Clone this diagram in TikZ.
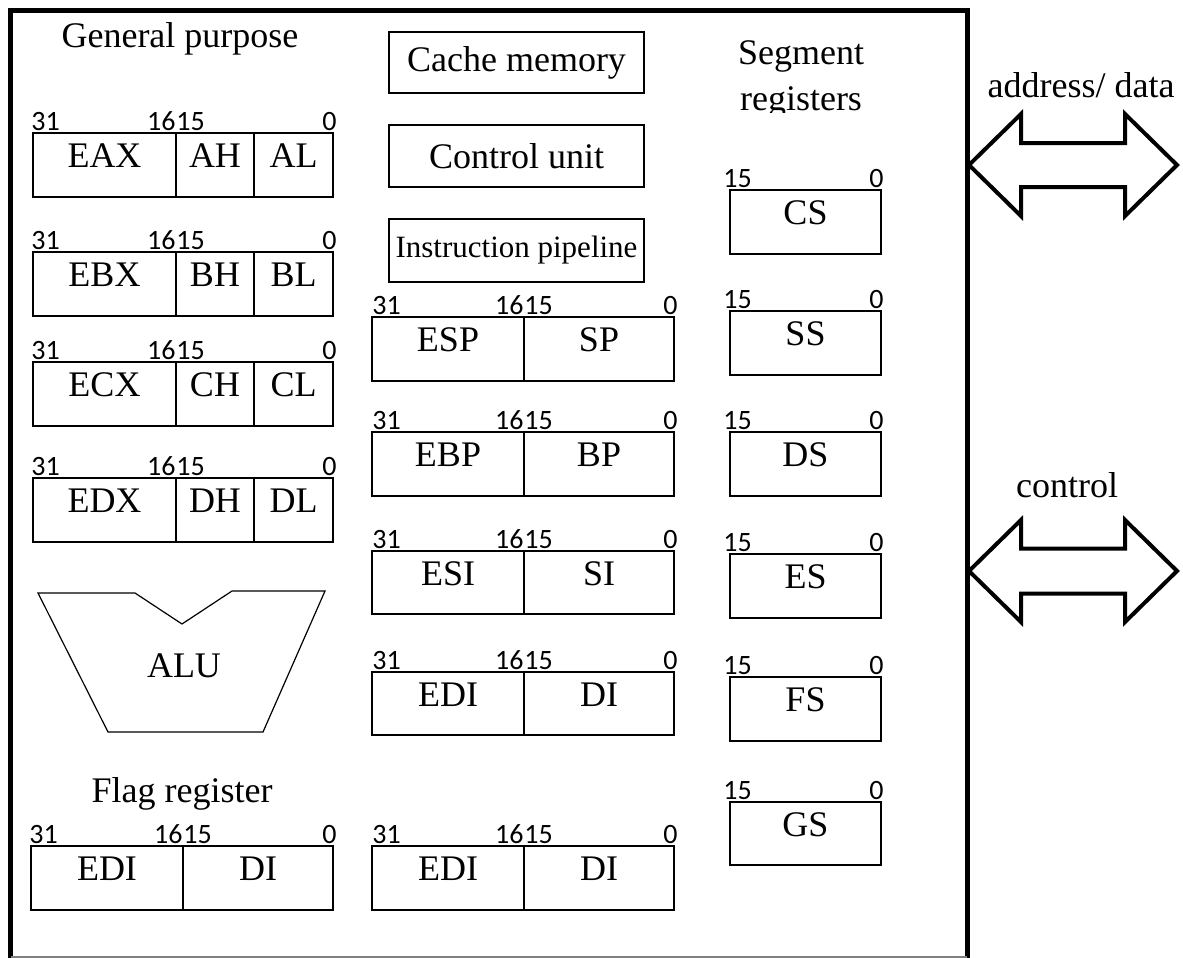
\documentclass[tikz,border=0pt]{standalone}
\usepackage{fontspec}
\setmainfont{Liberation Serif}
\newfontfamily\numfont{Carlito}
\usetikzlibrary{calc,fit}
\newcommand\regsec[6]{% name x1 x2 ytop ybot text
  \node[regbox, fit={(#2,#4) (#3,#5)}] (#1) {};
  \node[regtxt, anchor=base] (#1-t) at ($(#1.north)+(0,35)$) {#6};}
\newcommand\bitsfull[5]{% prefix x1 xdiv x2 ytop
  \node[bitnum, anchor=base west] (#1-31) at (#2-2,#5-3) {31};
  \node[bitnum, anchor=base east] (#1-16) at (#3,#5-3) {16};
  \node[bitnum, anchor=base west] (#1-15) at (#3,#5-3) {15};
  \node[bitnum, anchor=base east] (#1-0) at (#4+4,#5-3) {0};}
\newcommand\bitshalf[4]{% prefix x1 x2 ytop
  \node[bitnum, anchor=base west] (#1-15) at (#2-7,#4-3) {15};
  \node[bitnum, anchor=base east] (#1-0) at (#3+3,#4-3) {0};}
\begin{document}
\begin{tikzpicture}[x=0.5pt,y=-0.5pt,
  regbox/.style={draw=black, line width=0.6pt, inner sep=0pt},
  regtxt/.style={font=\fontsize{18}{20}\selectfont, inner sep=0pt},
  bitnum/.style={font=\numfont\fontsize{14}{16}\selectfont, inner sep=0pt},
  title/.style={font=\fontsize{18}{20}\selectfont, inner sep=0pt, anchor=base},
  bus/.style={draw=black, line width=2pt, line join=miter, fill=white},
  frame/.style={line width=2.5pt}]
\useasboundingbox (0,0) rectangle (1183,958);
% outer frame
\draw[frame] (10.5,962) -- (10.5,10.5) -- (967,10.5) -- (967,962);
\draw[gray, line width=0.6pt] (10.5,957) -- (967,957);

% titles
\node[title] (gp) at (180,47) {General purpose};
\node[title] (seg1) at (801,64) {Segment};
\begin{scope}
  \clip (700,70) rectangle (900,112);
  \node[title] (seg2) at (801,110) {registers};
\end{scope}
\node[title] (adt) at (1081,97) {address/ data};
\node[title] (ctl) at (1067,497) {control};
\node[title] (flag) at (182,802) {Flag register};

% general purpose registers
\regsec{eax}{33}{176}{133}{197}{EAX}
\regsec{ah}{176}{254}{133}{197}{AH}
\regsec{al}{254}{333}{133}{197}{AL}
\bitsfull{la}{33}{176}{333}{133}
\regsec{ebx}{33}{176}{252}{316}{EBX}
\regsec{bh}{176}{254}{252}{316}{BH}
\regsec{bl}{254}{333}{252}{316}{BL}
\bitsfull{lb}{33}{176}{333}{252}
\regsec{ecx}{33}{176}{362}{426}{ECX}
\regsec{ch}{176}{254}{362}{426}{CH}
\regsec{cl}{254}{333}{362}{426}{CL}
\bitsfull{lc}{33}{176}{333}{362}
\regsec{edx}{33}{176}{478}{542}{EDX}
\regsec{dh}{176}{254}{478}{542}{DH}
\regsec{dl}{254}{333}{478}{542}{DL}
\bitsfull{ld}{33}{176}{333}{478}

% ALU
\draw[line width=0.6pt] (38,593) -- (135,593) -- (182,624) -- (232,591) -- (325,591) -- (263,732) -- (108,732) -- cycle;
\node[title] (alu) at (184,677) {ALU};

% flag register
\regsec{fedi}{31}{183}{846}{910}{EDI}
\regsec{fdi}{183}{333}{846}{910}{DI}
\bitsfull{lf}{31}{183}{333}{846}

% middle column
\node[regbox, fit={(389,32) (644,93)}] (cache) {};
\node[regtxt] (cache-t) at (cache.center) {Cache memory};
\node[regbox, fit={(389,125) (644,187)}] (cu) {};
\node[regtxt] (cu-t) at (cu.center) {Control unit};
\node[regbox, fit={(389,219) (644,282)}] (ip) {};
\node[regtxt, font=\fontsize{15.5}{17}\selectfont] (ip-t) at (ip.center) {Instruction pipeline};

\regsec{esp}{372}{524}{317}{381}{ESP}
\regsec{sp}{524}{674}{317}{381}{SP}
\bitsfull{mesp}{374}{524}{674}{317}
\regsec{ebp}{372}{524}{432}{496}{EBP}
\regsec{bp}{524}{674}{432}{496}{BP}
\bitsfull{mebp}{374}{524}{674}{432}
\regsec{esi}{372}{524}{551}{614}{ESI}
\regsec{si}{524}{674}{551}{614}{SI}
\bitsfull{mesi}{374}{524}{674}{551}
\regsec{edi}{372}{524}{672}{735}{EDI}
\regsec{di}{524}{674}{672}{735}{DI}
\bitsfull{medi}{374}{524}{674}{672}
\regsec{edib}{372}{524}{846}{910}{EDI}
\regsec{dib}{524}{674}{846}{910}{DI}
\bitsfull{medib}{374}{524}{674}{846}

% segment registers
\regsec{cs}{730}{881}{190}{254}{CS}
\bitshalf{rcs}{730}{881}{190}
\regsec{ss}{730}{881}{311}{375}{SS}
\bitshalf{rss}{730}{881}{311}
\regsec{ds}{730}{881}{432}{496}{DS}
\bitshalf{rds}{730}{881}{432}
\regsec{es}{730}{881}{554}{618}{ES}
\bitshalf{res}{730}{881}{554}
\regsec{fs}{730}{881}{677}{741}{FS}
\bitshalf{rfs}{730}{881}{677}
\regsec{gs}{730}{881}{802}{865}{GS}
\bitshalf{rgs}{730}{881}{802}

% buses
\draw[bus] (969,165) -- (1021,114) -- (1021,143) -- (1125,143) -- (1125,114) -- (1177,165) -- (1125,216) -- (1125,187) -- (1021,187) -- (1021,216) -- cycle;
\draw[bus] (969,571) -- (1021,520) -- (1021,548.5) -- (1125,548.5) -- (1125,520) -- (1177,571) -- (1125,622) -- (1125,593.5) -- (1021,593.5) -- (1021,622) -- cycle;
\end{tikzpicture}
\end{document}
